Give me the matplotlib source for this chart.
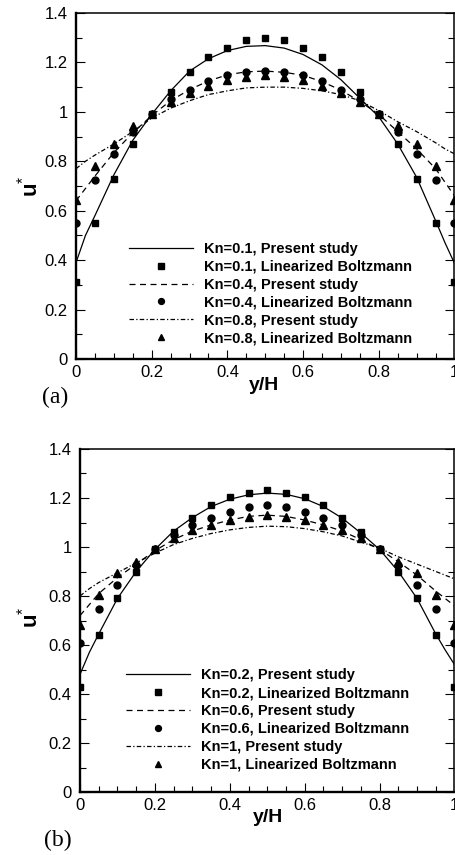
import matplotlib
matplotlib.use('Agg')
import matplotlib.pyplot as plt
from matplotlib.ticker import MultipleLocator

plt.rcParams['font.family'] = ['Liberation Sans', 'DejaVu Sans']
plt.rcParams['mathtext.fontset'] = 'custom'
plt.rcParams['mathtext.rm'] = 'Liberation Sans'
plt.rcParams['mathtext.bf'] = 'Liberation Sans:bold'

# sample positions of the linearized boltzmann data
y_pts = [0.0, 0.05, 0.1, 0.15, 0.2, 0.25, 0.3, 0.35, 0.4, 0.45, 0.5,
         0.55, 0.6, 0.65, 0.7, 0.75, 0.8, 0.85, 0.9, 0.95, 1.0]
# positions where the present-study curves are given
y_line = [0.0, 0.025, 0.05, 0.1, 0.15, 0.2, 0.25, 0.3, 0.35, 0.4, 0.45, 0.5,
          0.55, 0.6, 0.65, 0.7, 0.75, 0.8, 0.85, 0.9, 0.95, 0.975, 1.0]

# panel (a): Kn = 0.1, 0.4, 0.8
kn_a = ['0.1', '0.4', '0.8']
lb_a_01 = [0.31, 0.55, 0.73, 0.87, 0.99, 1.08, 1.16, 1.22, 1.26, 1.29, 1.30,
           1.29, 1.26, 1.22, 1.16, 1.08, 0.99, 0.87, 0.73, 0.55, 0.31]
lb_a_04 = [0.55, 0.725, 0.83, 0.92, 0.99, 1.05, 1.09, 1.125, 1.148, 1.16, 1.165,
           1.16, 1.148, 1.125, 1.09, 1.05, 0.99, 0.92, 0.83, 0.725, 0.55]
lb_a_08 = [0.645, 0.78, 0.87, 0.943, 0.99, 1.04, 1.078, 1.105, 1.127, 1.143, 1.149,
           1.143, 1.127, 1.105, 1.078, 1.04, 0.99, 0.943, 0.87, 0.78, 0.645]
ps_a_01 = [0.39, 0.50, 0.58, 0.745, 0.885, 0.99, 1.085, 1.165, 1.215, 1.248, 1.265,
           1.268, 1.258, 1.232, 1.19, 1.13, 1.055, 0.98, 0.87, 0.735, 0.56, 0.47, 0.387]
ps_a_04 = [0.64, 0.69, 0.74, 0.835, 0.915, 0.985, 1.045, 1.09, 1.125, 1.15, 1.162,
           1.165, 1.16, 1.148, 1.122, 1.088, 1.042, 0.99, 0.92, 0.85, 0.77, 0.715, 0.66]
ps_a_08 = [0.77, 0.80, 0.825, 0.87, 0.92, 0.975, 1.015, 1.045, 1.07, 1.085, 1.097,
           1.10, 1.10, 1.095, 1.085, 1.07, 1.045, 1.005, 0.96, 0.92, 0.875, 0.85, 0.83]

# panel (b): Kn = 0.2, 0.6, 1
kn_b = ['0.2', '0.6', '1']
lb_b_02 = [0.43, 0.64, 0.79, 0.897, 0.99, 1.06, 1.12, 1.17, 1.203, 1.22, 1.231,
           1.22, 1.203, 1.17, 1.12, 1.06, 0.99, 0.897, 0.79, 0.64, 0.43]
lb_b_06 = [0.61, 0.748, 0.844, 0.926, 0.99, 1.049, 1.09, 1.12, 1.144, 1.163, 1.17,
           1.163, 1.144, 1.12, 1.09, 1.049, 0.99, 0.926, 0.844, 0.748, 0.61]
lb_b_1 = [0.68, 0.805, 0.893, 0.94, 0.99, 1.038, 1.068, 1.09, 1.11, 1.121, 1.129,
          1.121, 1.11, 1.09, 1.068, 1.038, 0.99, 0.94, 0.893, 0.805, 0.68]
ps_b_02 = [0.48, 0.57, 0.645, 0.79, 0.90, 0.99, 1.065, 1.12, 1.165, 1.195, 1.213,
           1.22, 1.215, 1.197, 1.165, 1.118, 1.057, 0.99, 0.90, 0.79, 0.645, 0.58, 0.52]
ps_b_06 = [0.72, 0.765, 0.81, 0.875, 0.93, 0.985, 1.03, 1.065, 1.09, 1.11, 1.125,
           1.13, 1.125, 1.11, 1.09, 1.065, 1.03, 0.99, 0.94, 0.885, 0.82, 0.79, 0.76]
ps_b_1 = [0.80, 0.83, 0.855, 0.895, 0.935, 0.975, 1.01, 1.035, 1.055, 1.07, 1.08,
          1.085, 1.083, 1.075, 1.062, 1.045, 1.02, 0.995, 0.96, 0.93, 0.90, 0.885, 0.87]

dashed = (0, (4.8, 3.6))
dashdot = (0, (3.6, 1.8, 1.0, 1.8))


def draw_panel(ax, kn, lines, points, leg_xy):
  styles = ['-', dashed, dashdot]
  markers = [('s', 4.6), ('o', 5.0), ('^', 5.4)]
  for i in range(3):
    ax.plot(y_line, lines[i], color='black', lw=0.9, linestyle=styles[i],
            label=f'Kn={kn[i]}, Present study')
    ax.plot(y_pts, points[i], linestyle='none', marker=markers[i][0],
            ms=markers[i][1], color='black', mec='black',
            label=f'Kn={kn[i]}, Linearized Boltzmann')

  ax.set_xlim(0, 1)
  ax.set_ylim(0, 1.4)
  ax.xaxis.set_major_locator(MultipleLocator(0.2))
  ax.xaxis.set_minor_locator(MultipleLocator(0.05))
  ax.yaxis.set_major_locator(MultipleLocator(0.2))
  ax.yaxis.set_minor_locator(MultipleLocator(0.1))
  ax.xaxis.set_major_formatter(lambda v, p: f'{v:g}')
  ax.yaxis.set_major_formatter(lambda v, p: f'{v:g}')
  ax.tick_params(which='both', direction='in', left=True, right=True,
                 top=False, bottom=True, width=0.8, labelsize=12)
  ax.tick_params(which='major', length=6.5)
  ax.tick_params(which='minor', length=4)
  ax.tick_params(axis='y', pad=6)
  ax.tick_params(axis='x', pad=4)
  for side in ['left', 'bottom']:
    ax.spines[side].set_linewidth(1.7)
  for side in ['top', 'right']:
    ax.spines[side].set_linewidth(1.1)

  # legend markers sit a little smaller than in the plot
  leg = ax.legend(loc='center', bbox_to_anchor=leg_xy, frameon=False,
                  prop={'weight': 'bold', 'size': 10.5}, handlelength=4.4,
                  handletextpad=0.75, labelspacing=0.27, numpoints=1,
                  borderpad=0, markerscale=0.85)
  return leg


fig = plt.figure(figsize=(4.56, 8.55), dpi=100)

ax_a = fig.add_axes([76 / 456, 1 - 359 / 855, 378.5 / 456, 346 / 855])
draw_panel(ax_a, kn_a, [ps_a_01, ps_a_04, ps_a_08], [lb_a_01, lb_a_04, lb_a_08],
           (0.514, 0.189))
ax_a.set_xlabel('y/H', fontsize=14, fontweight='bold', va='center')
ax_a.xaxis.set_label_coords(0.497, -0.078)
ax_a.set_ylabel(r'$\mathbf{u}^{*}$', fontsize=16, va='center')
ax_a.yaxis.set_label_coords(-0.122, 0.5)
fig.text(55 / 456, 1 - 397 / 855, '(a)', family='Liberation Serif', fontsize=17,
         ha='center', va='center')

ax_b = fig.add_axes([80 / 456, 1 - 792 / 855, 374.5 / 456, 343 / 855])
draw_panel(ax_b, kn_b, [ps_b_02, ps_b_06, ps_b_1], [lb_b_02, lb_b_06, lb_b_1],
           (0.501, 0.21))
ax_b.set_xlabel('y/H', fontsize=14, fontweight='bold', va='center')
ax_b.xaxis.set_label_coords(0.503, -0.073)
ax_b.set_ylabel(r'$\mathbf{u}^{*}$', fontsize=16, va='center')
ax_b.yaxis.set_label_coords(-0.134, 0.51)
fig.text(58 / 456, 1 - 840 / 855, '(b)', family='Liberation Serif', fontsize=17,
         ha='center', va='center')

fig.savefig('out.png', dpi=100)
